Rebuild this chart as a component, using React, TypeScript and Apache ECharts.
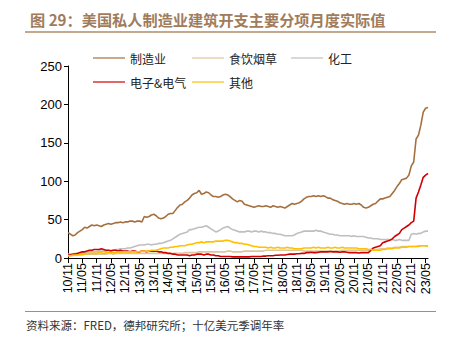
import React, { useEffect, useRef } from "react";
import * as echarts from "echarts";

// Monthly categories 2010-11 .. 2023-06, label format yy/mm
const startYear = 2010;
const startMonth = 11;
const monthCount = 152;
const months: string[] = [];
for (let k = 0; k < monthCount; k++) {
  const m0 = startMonth - 1 + k;
  const y = startYear + Math.floor(m0 / 12);
  const m = (m0 % 12) + 1;
  months.push(String(y % 100).padStart(2, "0") + "/" + String(m).padStart(2, "0"));
}

const yTicks = [0, 50, 100, 150, 200, 250];

const seriesNames = ["制造业", "食饮烟草", "化工", "电子&电气", "其他"];

const manufacturing = [
  33, 31, 29, 30, 33, 35, 37, 40, 39, 41, 43, 42,
  43, 42, 41, 43, 44, 45, 44, 45, 46, 46, 47, 46,
  47, 47, 48, 48, 47, 48, 48, 47, 54, 53, 54, 56,
  57, 55, 52, 51, 52, 54, 57, 58, 58, 62, 66, 69,
  70, 73, 75, 78, 82, 84, 85, 88, 83, 84, 86, 85,
  82, 80, 80, 79, 80, 82, 83, 82, 80, 77, 75, 73,
  75, 74, 70, 69, 68, 67, 66, 67, 68, 67, 67, 68,
  67, 66, 68, 67, 66, 67, 66, 65, 67, 69, 71, 70,
  71, 72, 74, 77, 79, 80, 80, 81, 80, 81, 80, 81,
  80, 78, 78, 76, 75, 74, 72, 71, 70, 71, 70, 70,
  71, 70, 71, 69, 66, 65, 66, 68, 70, 71, 74, 77,
  77, 78, 79, 80, 84, 88, 93, 97, 102, 103, 104, 108,
  120, 125, 155, 160, 173, 190, 195, 196,
];

const foodBeverage = [
  3, 3, 3, 4, 4, 4, 4, 5, 5, 5, 5, 5,
  5, 5, 5, 5, 5, 6, 6, 5, 6, 6, 6, 6,
  6, 6, 6, 6, 6, 6, 6, 6, 6, 6, 6, 6,
  6, 6, 6, 6, 6, 6, 6, 6, 6, 6, 6, 6,
  6, 7, 7, 7, 7, 7, 7, 8, 8, 8, 8, 8,
  8, 8, 8, 8, 8, 8, 8, 9, 9, 8, 8, 8,
  8, 8, 9, 9, 9, 9, 9, 9, 9, 9, 9, 10,
  10, 10, 10, 10, 10, 10, 10, 10, 10, 10, 10, 10,
  10, 10, 10, 9, 9, 9, 9, 9, 9, 9, 9, 9,
  9, 9, 9, 9, 9, 9, 9, 10, 10, 10, 10, 10,
  10, 10, 10, 10, 10, 10, 10, 11, 11, 11, 11, 12,
  12, 12, 13, 13, 13, 14, 14, 14, 15, 15, 15, 15,
  15, 15, 15, 16, 16, 16, 16, 16,
];

const chemicals = [
  5, 5, 5, 6, 6, 6, 7, 7, 7, 8, 8, 8,
  8, 9, 9, 9, 9, 10, 10, 10, 11, 11, 12, 12,
  12, 13, 13, 14, 15, 16, 17, 17, 17, 18, 18, 17,
  18, 18, 19, 19, 20, 21, 22, 23, 25, 27, 29, 31,
  32, 33, 34, 37, 37, 38, 39, 40, 40, 41, 42, 40,
  38, 36, 34, 35, 37, 39, 40, 41, 39, 37, 36, 35,
  34, 34, 34, 35, 35, 34, 35, 35, 34, 35, 34, 34,
  33, 33, 32, 32, 31, 31, 30, 29, 29, 29, 29, 30,
  32, 33, 34, 35, 35, 35, 35, 35, 36, 35, 35, 34,
  33, 32, 31, 31, 30, 30, 29, 29, 29, 29, 29, 28,
  29, 28, 28, 28, 28, 27, 26, 26, 25, 25, 25, 24,
  24, 24, 24, 24, 24, 23, 23, 24, 23, 23, 23, 23,
  31, 32, 31, 32, 32, 34, 35, 35,
];

const electronics = [
  4, 4, 5, 5, 6, 7, 8, 8, 9, 10, 10, 11,
  11, 11, 12, 11, 10, 10, 9, 10, 10, 9, 10, 9,
  9, 9, 8, 9, 9, 8, 8, 9, 9, 8, 9, 9,
  9, 9, 8, 8, 7, 7, 6, 6, 5, 5, 4, 4,
  4, 4, 4, 3, 4, 4, 5, 5, 5, 4, 5, 5,
  4, 4, 3, 3, 2, 2, 2, 2, 2, 1.5, 1.5, 1.5,
  1.5, 1.5, 1.5, 1.5, 1.5, 2, 2, 2, 2, 2, 2.5, 2.5,
  3, 3, 3, 3.5, 3.5, 4, 4, 4, 4.5, 5, 5, 5,
  5.5, 5.5, 6, 6, 7, 7, 7.5, 7, 7, 7.5, 8, 8,
  8, 8, 8.5, 8, 8, 8, 7.5, 8, 8, 7.5, 7, 7,
  7, 7, 6.5, 7, 7, 7, 7, 10, 13, 14, 15, 16,
  20, 21, 22, 23, 25, 28, 30, 32, 37, 39, 41, 43,
  46, 48, 78, 86, 95, 105, 108, 110,
];

const others = [
  3, 3, 4, 4, 4, 5, 5, 5, 6, 6, 6, 6,
  6, 7, 7, 6, 7, 7, 7, 7, 7, 8, 7, 8,
  8, 8, 8, 8, 8, 8, 8, 9, 9, 9, 9, 10,
  10, 10, 11, 12, 13, 13, 13, 14, 14, 15, 15, 16,
  16, 16, 17, 18, 18, 19, 20, 20, 21, 20, 21, 21,
  21, 21, 22, 22, 22, 22, 23, 23, 22, 21, 20, 20,
  19, 19, 18, 18, 17, 16, 15, 15, 14, 14, 14, 14,
  13, 14, 13, 13, 14, 13, 13, 13, 14, 13, 13, 12,
  12, 12, 12, 13, 13, 13, 13, 14, 13, 14, 13, 13,
  13, 14, 13, 13, 14, 13, 13, 14, 13, 13, 13, 13,
  13, 13, 12, 12, 12, 12, 11, 11, 10, 10, 10, 10,
  11, 11, 12, 12, 12, 13, 13, 13, 14, 14, 14, 15,
  15, 15, 15, 15, 16, 16, 16, 15,
];

const colors = ["#a5703f", "#dcc69c", "#bfbfbf", "#d10000", "#ffc000"];
const seriesData = [manufacturing, foodBeverage, chemicals, electronics, others];

const legendPos = [
  { left: 88, top: 47 },
  { left: 187, top: 47 },
  { left: 286, top: 47 },
  { left: 88, top: 71 },
  { left: 187, top: 71 },
];

export default function App() {
  const ref = useRef<HTMLDivElement>(null);
  useEffect(() => {
    if (!ref.current) return;
    const chart = echarts.init(ref.current, null, { renderer: "svg" });
    const cjk = "'Noto Sans CJK SC', sans-serif";
    chart.setOption({
      animation: false,
      backgroundColor: "#ffffff",
      title: {
        text: "图 29：美国私人制造业建筑开支主要分项月度实际值",
        left: 25,
        top: 6,
        textStyle: {
          color: "#a07c5c",
          fontSize: 15.2,
          fontWeight: "bold",
          fontFamily: cjk,
        },
      },
      legend: seriesNames.map((n, i) => ({
        data: [n],
        left: legendPos[i].left,
        top: legendPos[i].top,
        itemWidth: 32,
        itemHeight: 12,
        itemGap: 0,
        icon: "path://M0,5.4 L32,5.4 L32,6.6 L0,6.6 Z",
        textStyle: { fontSize: 12, color: "#222", fontFamily: cjk },
        selectedMode: false,
      })),
      grid: { left: 68, right: 22, top: 66, bottom: 79, containLabel: false },
      xAxis: {
        type: "category",
        data: months,
        boundaryGap: false,
        axisLine: { lineStyle: { color: "#000", width: 1 } },
        axisTick: { interval: 5, length: 5, lineStyle: { color: "#000" } },
        axisLabel: {
          interval: 5,
          rotate: 90,
          fontSize: 12.5,
          color: "#000",
          fontFamily: "'Liberation Sans', Arial, sans-serif",
          margin: 5,
        },
        splitLine: { show: false },
      },
      yAxis: {
        type: "value",
        min: yTicks[0],
        max: yTicks[yTicks.length - 1],
        interval: 50,
        axisLine: { show: true, lineStyle: { color: "#000", width: 1 } },
        axisTick: { show: true, length: 4, lineStyle: { color: "#000" } },
        axisLabel: {
          fontSize: 13,
          color: "#000",
          fontFamily: "'Liberation Sans', Arial, sans-serif",
          margin: 6,
        },
        splitLine: { show: false },
      },
      series: seriesNames.map((n, i) => ({
        name: n,
        type: "line",
        data: seriesData[i],
        showSymbol: false,
        symbol: "none",
        lineStyle: { color: colors[i], width: 1.6 },
        itemStyle: { color: colors[i] },
      })),
      graphic: [
        {
          type: "line",
          shape: { x1: 25, y1: 32, x2: 436, y2: 32 },
          style: { stroke: "#b08a66", lineWidth: 1.5 },
        },
        {
          type: "line",
          shape: { x1: 25, y1: 311.5, x2: 436, y2: 311.5 },
          style: { stroke: "#b08a66", lineWidth: 1.2 },
        },
        {
          type: "text",
          left: 26,
          top: 319,
          style: {
            text: "资料来源：FRED，德邦研究所；十亿美元季调年率",
            fontSize: 11.5,
            fill: "#333",
            fontFamily: cjk,
          },
        },
      ],
    });
    return () => chart.dispose();
  }, []);
  return <div ref={ref} style={{ width: 450, height: 337, position: "absolute", left: 0, top: 0 }} />;
}
